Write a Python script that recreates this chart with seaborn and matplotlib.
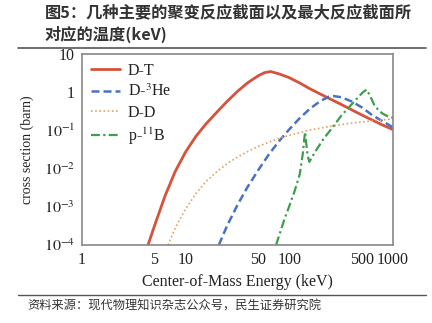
import matplotlib
matplotlib.use("Agg")
import matplotlib.pyplot as plt
import seaborn as sns
import pandas as pd
from matplotlib.lines import Line2D

# ---- data ----
E_dt = [4.27, 5.01, 6.31, 7.94, 10, 12.6, 15.8, 20, 25.1, 31.6, 39.8, 50.1, 57.5, 66,
        79.4, 100, 126, 158, 224, 316, 447, 631, 794, 1000]
S_dt = [8.9e-5, 3.2e-4, 1.9e-3, 8.5e-3, 0.0275, 0.071, 0.151, 0.30, 0.575, 1.05, 1.78,
        2.69, 3.24, 3.47, 3.02, 2.40, 1.74, 1.23, 0.76, 0.48, 0.295, 0.186, 0.138, 0.105]

E_dhe = [20.9, 25.1, 31.6, 39.8, 50.1, 63.1, 79.4, 100, 126, 158, 200, 240, 269, 316,
         398, 501, 631, 794, 1000]
S_dhe = [1e-4, 3.2e-4, 1.12e-3, 3.4e-3, 9.1e-3, 0.023, 0.052, 0.107, 0.209, 0.37, 0.59,
         0.76, 0.79, 0.74, 0.575, 0.40, 0.25, 0.174, 0.12]

E_dd = [6.76, 7.94, 10, 12.6, 15.8, 20, 25.1, 31.6, 39.8, 50.1, 63.1, 79.4, 100, 158,
        251, 398, 631, 1000]
S_dd = [1e-4, 2.8e-4, 8.9e-4, 2.24e-3, 4.7e-3, 8.3e-3, 0.0135, 0.020, 0.028, 0.038,
        0.049, 0.062, 0.074, 0.102, 0.129, 0.155, 0.178, 0.20]

E_pb = [74.5, 89.1, 100, 112, 126, 135, 139, 142, 145, 150, 156, 178, 214, 263, 316,
        380, 457, 513, 556, 603, 661, 724, 794, 891, 1000]
S_pb = [1e-4, 4.5e-4, 1.05e-3, 2.5e-3, 7.1e-3, 0.025, 0.056, 0.091, 0.050, 0.022, 0.015,
        0.028, 0.060, 0.123, 0.24, 0.417, 0.72, 1.0, 1.17, 0.79, 0.457, 0.34, 0.275,
        0.234, 0.214]

labels = ["D-T", "D-$^{3}$He", "D-D", "p-$^{11}$B"]
x_ticks = [1, 5, 10, 50, 100, 500, 1000]
x_ticklabels = ["1", "5", "10", "50", "100", "500", "1000"]
y_ticks = [1e-4, 1e-3, 1e-2, 1e-1, 1, 10]
y_ticklabels = ["$10^{-4}$", "$10^{-3}$", "$10^{-2}$", "$10^{-1}$", "1", "10"]

title = "图5：几种主要的聚变反应截面以及最大反应截面所\n对应的温度(keV)"
source = "资料来源：现代物理知识杂志公众号，民生证券研究院"

# ---- styling ----
sns.set_style("white")
plt.rcParams["font.family"] = ["Liberation Serif", "DejaVu Serif"]
plt.rcParams["mathtext.fontset"] = "stix"

colors = ["#d5533a", "#4a72c4", "#e3a262", "#3d9e4e"]
styles = ["-", (0, (3.2, 1.6)), (0, (1, 1.5)), (0, (4, 1.5, 1, 1.5))]
widths = [2.0, 1.8, 1.2, 1.6]

fig = plt.figure(figsize=(4.32, 3.23), dpi=100)
ax = fig.add_axes([82 / 432, (323 - 245) / 323, (393 - 82) / 432, (245 - 54) / 323])

series = [(E_dt, S_dt), (E_dhe, S_dhe), (E_dd, S_dd), (E_pb, S_pb)]
for (E, S), lab, c, ls, lw in zip(series, labels, colors, styles, widths):
    df = pd.DataFrame({"E": E, "S": S})
    sns.lineplot(data=df, x="E", y="S", ax=ax, color=c, linewidth=lw,
                 linestyle=ls, estimator=None, sort=False, label=lab)

ax.set_xscale("log")
ax.set_yscale("log")
ax.set_xlim(1, 1000)
ax.set_ylim(1e-4, 10)
ax.set_xticks(x_ticks)
ax.set_xticklabels(x_ticklabels)
ax.set_yticks(y_ticks)
ax.set_yticklabels(y_ticklabels)
ax.minorticks_off()
ax.tick_params(direction="in", length=4, width=0.9, colors="#777777",
               labelcolor="#222222", labelsize=11.5, pad=5)
for sp in ax.spines.values():
    sp.set_color("#888888")
    sp.set_linewidth(1.2)

ax.set_xlabel("Center-of-Mass Energy (keV)", fontsize=11.5, color="#222222", labelpad=4)
ax.set_ylabel("cross section (barn)", fontsize=10, color="#222222", labelpad=7)

handles = [Line2D([0], [0], color=c, linestyle=ls, linewidth=lw)
           for c, ls, lw in zip(colors, styles, widths)]
ax.legend(handles, labels, loc="upper left", frameon=False, fontsize=11.5,
          handlelength=1.8, handletextpad=0.5, labelspacing=0.3,
          borderaxespad=0.15, labelcolor="#222222")

# ---- title, rules, source ----
fig.text(45 / 432, 1 - 4 / 323, title, ha="left", va="top", fontsize=11.7,
         fontweight="bold", color="#333333", linespacing=1.45,
         family=["Noto Sans CJK SC", "DejaVu Sans"])
fig.add_artist(Line2D([18 / 432, 426 / 432], [1 - 48 / 323, 1 - 48 / 323],
                      color="#555555", linewidth=1.2))
fig.add_artist(Line2D([18 / 432, 426 / 432], [1 - 295 / 323, 1 - 295 / 323],
                      color="#555555", linewidth=1.0))
fig.text(27 / 432, 1 - 306 / 323, source, ha="left", va="center", fontsize=8.8,
         color="#333333", family=["Noto Sans CJK SC", "DejaVu Sans"])

fig.savefig("out.png", dpi=100)
